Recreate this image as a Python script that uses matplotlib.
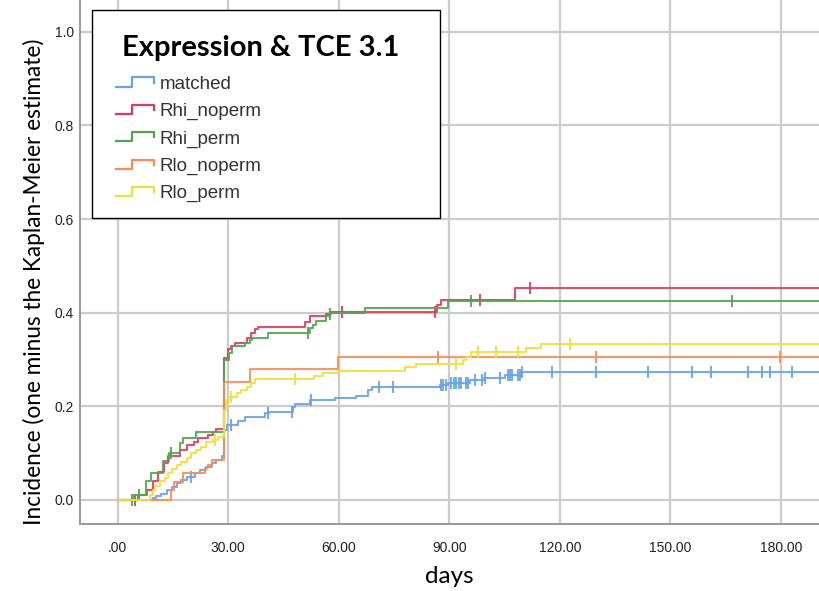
import numpy as np
import matplotlib.pyplot as plt
from matplotlib.lines import Line2D
from matplotlib.legend_handler import HandlerBase

# event times (days) and cumulative incidence after each event
matched_t = [9.7, 10.5, 11.7, 13.3, 14.7, 16.0, 17.3, 18.7, 21.0, 22.4, 24.0, 25.5, 26.8, 28.2,
             29.0, 29.6, 32.7, 34.5, 39.9, 41.0, 47.6, 48.1, 52.1, 58.9, 64.8, 67.9, 69.1,
             87.4, 89.6, 95.5, 99.3, 105.0, 109.4]
matched_y = [0.004, 0.009, 0.013, 0.021, 0.028, 0.036, 0.043, 0.050, 0.057, 0.064, 0.071, 0.078,
             0.085, 0.093, 0.150, 0.160, 0.169, 0.177, 0.185, 0.188, 0.199, 0.205, 0.214, 0.217,
             0.222, 0.234, 0.241, 0.246, 0.249, 0.256, 0.261, 0.266, 0.273]
matched_cens = [20.0, 30.9, 40.8, 47.2, 52.6, 70.9, 74.7, 87.8, 88.3, 89.0, 90.5, 91.2, 91.9,
                92.6, 93.2, 94.4, 95.0, 97.0, 98.9, 99.7, 103.8, 105.9, 106.5, 107.0, 108.6,
                109.2, 109.7, 117.9, 129.9, 143.9, 155.9, 160.9, 171.0, 174.9, 177.0, 183.0]

rhi_noperm_t = [5.5, 8.0, 9.5, 11.0, 12.5, 13.7, 17.0, 18.8, 20.6, 21.9, 24.6, 25.9, 26.8, 29.0,
                30.0, 30.9, 31.8, 35.0, 36.3, 37.2, 38.1, 50.8, 52.1, 56.6, 57.5, 86.6, 87.8, 107.7]
rhi_noperm_y = [0.010, 0.021, 0.040, 0.060, 0.080, 0.093, 0.107, 0.117, 0.124, 0.132, 0.139,
                0.146, 0.151, 0.303, 0.322, 0.328, 0.335, 0.345, 0.356, 0.365, 0.370, 0.381,
                0.392, 0.398, 0.402, 0.417, 0.427, 0.452]
rhi_noperm_cens = [4.8, 60.8, 86.0, 98.2, 111.8]

rhi_perm_t = [4.5, 7.8, 9.0, 12.4, 14.0, 16.9, 17.8, 21.3, 29.0, 30.2, 31.0, 34.5, 35.9, 36.5,
              40.8, 52.1, 53.0, 53.9, 56.6, 57.4, 58.0, 67.0, 89.6]
rhi_perm_y = [0.010, 0.040, 0.058, 0.083, 0.100, 0.121, 0.132, 0.145, 0.299, 0.313, 0.328, 0.335,
              0.342, 0.346, 0.356, 0.367, 0.374, 0.383, 0.392, 0.397, 0.400, 0.410, 0.426]
rhi_perm_cens = [4.0, 5.8, 14.6, 51.7, 57.7, 96.0, 166.8]

rlo_noperm_t = [14.5, 15.3, 17.8, 23.7, 24.6, 25.5, 29.0, 35.8, 59.8]
rlo_noperm_y = [0.021, 0.039, 0.057, 0.068, 0.075, 0.085, 0.251, 0.279, 0.306]
rlo_noperm_cens = [86.9, 129.9, 179.8]

rlo_perm_t = [8.8, 9.5, 10.2, 11.5, 12.9, 13.8, 14.7, 16.0, 17.3, 18.7, 20.0, 21.3, 22.7, 24.0,
              25.9, 27.3, 29.0, 29.5, 30.4, 32.3, 33.6, 35.0, 36.3, 37.2, 53.4, 55.6, 59.8,
              77.9, 80.9, 93.7, 94.6, 96.0, 110.8, 114.9]
rlo_perm_y = [0.010, 0.021, 0.030, 0.040, 0.048, 0.057, 0.066, 0.074, 0.082, 0.090, 0.100, 0.107,
              0.114, 0.123, 0.128, 0.135, 0.192, 0.214, 0.221, 0.228, 0.236, 0.241, 0.249, 0.258,
              0.265, 0.272, 0.276, 0.283, 0.291, 0.299, 0.306, 0.317, 0.324, 0.333]
rlo_perm_cens = [26.4, 30.8, 48.1, 91.9, 97.9, 102.7, 108.7, 122.8]

groups = ['matched', 'Rhi_noperm', 'Rhi_perm', 'Rlo_noperm', 'Rlo_perm']
colors = ['#6aa2e8', '#e03a5e', '#55a352', '#f98c55', '#ece13c']
curves = [(matched_t, matched_y, matched_cens),
          (rhi_noperm_t, rhi_noperm_y, rhi_noperm_cens),
          (rhi_perm_t, rhi_perm_y, rhi_perm_cens),
          (rlo_noperm_t, rlo_noperm_y, rlo_noperm_cens),
          (rlo_perm_t, rlo_perm_y, rlo_perm_cens)]
x_ticks = [0, 30, 60, 90, 120, 150, 180]
x_ticklabels = ['.00', '30.00', '60.00', '90.00', '120.00', '150.00', '180.00']
y_ticks = [0.0, 0.2, 0.4, 0.6, 0.8, 1.0]
t_end = 192


class StepHandler(HandlerBase):
    # small step-shaped legend key
    def create_artists(self, legend, orig_handle, xdescent, ydescent, width, height, fontsize, trans):
        xs = (0.17 + np.array([0, 0.42, 0.42, 1.0, 1.0]) * 0.83) * width - xdescent
        ys = np.array([0.15, 0.15, 0.85, 0.85, 0.45]) * height - ydescent
        key = Line2D(xs, ys, color=orig_handle.get_color(), lw=1.6)
        key.set_transform(trans)
        return [key]


fig = plt.figure(figsize=(8.19, 5.91), dpi=100)
ax = fig.add_axes([80 / 819, 67 / 591, 739 / 819, 524 / 591])

handles = []
for name, col, (t, y, cens) in zip(groups, colors, curves):
    tt = np.concatenate([[0.0], t, [t_end]])
    yy = np.concatenate([[0.0], y, [y[-1]]])
    ln, = ax.step(tt, yy, where='post', color=col, lw=1.5, alpha=0.9, label=name, zorder=3)
    # censored observations as tick marks on the curve
    idx = np.searchsorted(tt, cens, side='right') - 1
    ax.plot(cens, yy[idx], ls='none', marker='|', ms=9, mew=1.3, color=col, zorder=3)
    handles.append(ln)

ax.set_xlim(-10.2, 190.3)
ax.set_ylim(-0.0513, 1.068)
ax.set_xticks(x_ticks)
ax.set_xticklabels(x_ticklabels)
ax.set_yticks(y_ticks)
ax.set_yticklabels(['%.1f' % v for v in y_ticks])
ax.tick_params(length=0, labelsize=10, labelcolor='#222222')
ax.tick_params(axis='x', pad=12)
ax.tick_params(axis='y', pad=4.5)
for lab in ax.get_xticklabels() + ax.get_yticklabels():
    lab.set_family('Liberation Sans')
ax.grid(True, color='#cccccc', lw=1.6)
ax.set_axisbelow(True)
for side in ['top', 'right']:
    ax.spines[side].set_visible(False)
for side in ['left', 'bottom']:
    ax.spines[side].set_color('#999999')
    ax.spines[side].set_linewidth(1.4)

ax.set_xlabel('days', fontsize=17.5, family='Lato', labelpad=8)
ax.set_ylabel('Incidence (one minus the Kaplan-Meier estimate)', fontsize=16.3, family='Lato')
ax.yaxis.set_label_coords(-0.048, 0.462)

leg = ax.legend(handles=handles, labels=groups, loc='upper left', mode='expand',
                bbox_to_anchor=(0.016, 0.592, 0.471, 0.389), handler_map={Line2D: StepHandler()},
                title='Expression & TCE 3.1',
                title_fontproperties={'family': 'Lato', 'weight': 'bold', 'size': 21},
                prop={'family': 'Liberation Sans', 'size': 13.5},
                frameon=True, fancybox=False, borderpad=0.85, labelspacing=0.54,
                handlelength=2.45, handletextpad=0.32, borderaxespad=0)
leg.get_frame().set_edgecolor('black')
leg.get_frame().set_linewidth(1.0)
leg.get_frame().set_alpha(1)
leg._legend_box.sep = 17
leg.get_title().set_position((-5, -9))
for txt in leg.get_texts():
    txt.set_color('#333333')

fig.savefig('out.png', dpi=100)
